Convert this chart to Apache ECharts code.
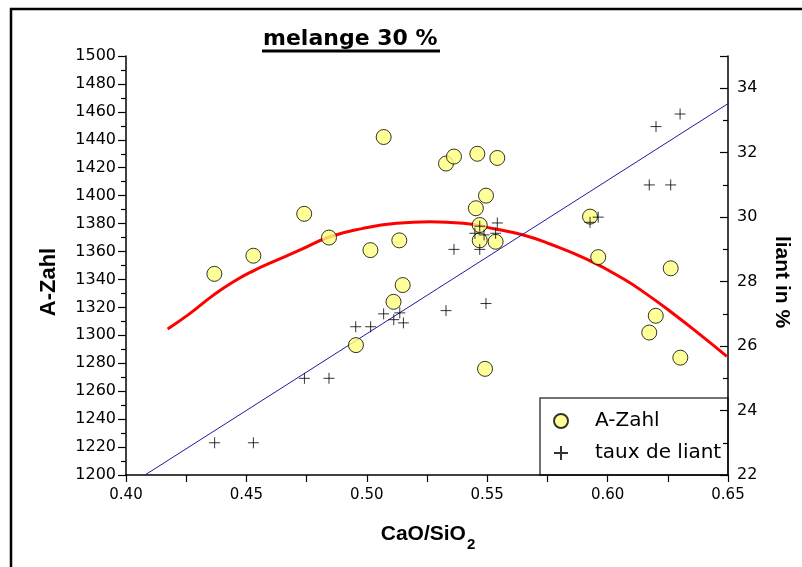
<!DOCTYPE html>
<html>
<head>
<meta charset="utf-8">
<script src="https://cdn.jsdelivr.net/npm/echarts@6/dist/echarts.min.js"></script>
<style>html,body{margin:0;padding:0;background:#fff}#c{width:802px;height:567px}</style>
</head>
<body>
<div id="c"></div>
<script>
// A-Zahl (left axis)
const azX = [0.4367,0.4529,0.4740,0.4843,0.4955,0.5015,0.5070,0.5111,0.5135,0.5149,0.5329,0.5362,0.5459,0.5453,0.5495,0.5469,0.5469,0.5491,0.5535,0.5542,0.5927,0.5961,0.6173,0.6200,0.6262,0.6302];
const azY = [1344,1357,1387,1370,1293,1361,1442,1324,1368,1336,1423,1428,1430,1391,1400,1379,1368,1276,1367,1427,1385,1356,1302,1314,1348,1284];
// taux de liant (right axis)
const tlX = [0.4368,0.4529,0.4741,0.4843,0.4954,0.5016,0.5070,0.5112,0.5137,0.5152,0.5329,0.5362,0.5449,0.5469,0.5469,0.5487,0.5495,0.5535,0.5542,0.5927,0.5961,0.6173,0.6201,0.6262,0.6301];
const tlY = [23.0,23.0,25.0,25.0,26.6,26.6,27.0,26.82,27.03,26.72,27.1,29.0,29.5,29.72,29.0,29.45,27.32,29.5,29.82,29.84,30.0,31.0,32.81,31.0,33.2];
// fitted curve of A-Zahl
const fitX = [0.4173,0.4266,0.4363,0.4446,0.4529,0.4612,0.4723,0.4847,0.4985,0.5124,0.5262,0.5401,0.5539,0.5650,0.5761,0.5913,0.6065,0.6162,0.6273,0.6384,0.6495];
const fitY = [1304.5,1315.7,1328.8,1338.4,1346.2,1352.7,1361.1,1370.6,1376.6,1380.2,1381.3,1380.2,1375.9,1371.8,1365.4,1354.5,1340.5,1329.5,1315.5,1300.5,1285.0];
// linear fit of taux de liant
const linX = [0.4079,0.6590];
const linY = [22.0,33.95];
// ticks
const xMin = 0.40, xMax = 0.65, xStep = 0.05;
const yMin = 1200, yMax = 1500, yStep = 20;
const y2Min = 22, y2Max = 35, y2Step = 2;

const zip = (a,b) => a.map((v,i)=>[v,b[i]]);
const lab = {fontFamily:'DejaVu Sans', fontSize:15, color:'#000'};
const chart = echarts.init(document.getElementById('c'));
chart.setOption({
  animation:false,
  backgroundColor:'#fff',
  title:{text:'melange 30 %', left:263, top:28, padding:0,
    textStyle:{fontFamily:'DejaVu Sans', fontWeight:'bold', fontSize:22, color:'#000'}},
  grid:{left:126, right:74, top:56, bottom:92},
  xAxis:{type:'value', min:xMin, max:xMax, interval:xStep,
    axisLine:{lineStyle:{color:'#000', width:1.5}},
    axisTick:{length:7, lineStyle:{color:'#000', width:1.2}},
    minorTick:{show:true, splitNumber:2, length:7, lineStyle:{color:'#000', width:1.2}},
    splitLine:{show:false},
    axisLabel:{...lab, margin:13, formatter:v=>v.toFixed(2)}},
  yAxis:[
    {type:'value', min:yMin, max:yMax, interval:yStep, position:'left',
     axisLine:{show:true, lineStyle:{color:'#000', width:1.5}},
     axisTick:{show:true, length:8, lineStyle:{color:'#000', width:1.2}},
     minorTick:{show:true, splitNumber:2, length:5, lineStyle:{color:'#000', width:1.2}},
     splitLine:{show:false},
     axisLabel:{...lab, fontSize:16, margin:10, formatter:v=>String(Math.round(v))}},
    {type:'value', min:y2Min, max:y2Max, interval:y2Step, position:'right',
     axisLine:{show:true, lineStyle:{color:'#000', width:1.5}},
     axisTick:{show:true, inside:true, length:8, lineStyle:{color:'#000', width:1.2}},
     minorTick:{show:true, splitNumber:2, length:5, lineStyle:{color:'#000', width:1.2}},
     splitLine:{show:false},
     axisLabel:{...lab, fontSize:16, margin:9, showMaxLabel:false, formatter:v=>String(Math.round(v))}}
  ],
  legend:{orient:'vertical', left:548, top:406, itemGap:12, itemWidth:14, itemHeight:14,
    textStyle:{fontFamily:'DejaVu Sans', fontSize:20, color:'#000', padding:[0,0,0,22]},
    data:['A-Zahl','taux de liant']},
  series:[
    {name:'fit', type:'line', yAxisIndex:0, data:zip(fitX,fitY), smooth:true, showSymbol:false,
     lineStyle:{color:'#ff0000', width:3}, z:3, silent:true},
    {name:'linfit', type:'line', yAxisIndex:1, data:zip(linX,linY), showSymbol:false, clip:false,
     lineStyle:{color:'#1c1c9c', width:1}, z:3, silent:true},
    {name:'A-Zahl', type:'scatter', yAxisIndex:0, data:zip(azX,azY), symbol:'circle', symbolSize:15,
     itemStyle:{color:'#ffff80', borderColor:'#000', borderWidth:1}, z:4},
    {name:'taux de liant', type:'scatter', yAxisIndex:1, data:zip(tlX,tlY),
     symbol:'path://M0 5H10M5 0V10', symbolSize:11,
     itemStyle:{color:'rgba(0,0,0,0)', borderColor:'#000', borderWidth:1}, z:5}
  ],
  graphic:[
    {type:'rect', shape:{x:11, y:9, width:820, height:600}, style:{fill:'none', stroke:'#000', lineWidth:2.5}, silent:true},
    {type:'line', shape:{x1:262, y1:51, x2:440, y2:51}, style:{stroke:'#000', lineWidth:3}, silent:true},
    {type:'rect', shape:{x:540, y:398, width:188, height:77}, style:{fill:'none', stroke:'#444', lineWidth:1.5}, silent:true},
    {type:'text', x:48.5, y:282, rotation:Math.PI/2,
     style:{text:'A-Zahl', fontFamily:'Liberation Sans', fontWeight:'bold', fontSize:22, fill:'#000',
            align:'center', verticalAlign:'middle', textAlign:'center', textVerticalAlign:'middle'}},
    {type:'text', x:781.5, y:282, rotation:-Math.PI/2,
     style:{text:'liant in %', fontFamily:'Liberation Sans', fontWeight:'bold', fontSize:21, fill:'#000',
            align:'center', verticalAlign:'middle', textAlign:'center', textVerticalAlign:'middle'}},
    {type:'text', x:428, y:524,
     style:{text:'{a|CaO/SiO}{b|2}', align:'center', verticalAlign:'top', textAlign:'center', textVerticalAlign:'top',
       rich:{a:{fontFamily:'Liberation Sans', fontWeight:'bold', fontSize:21, fill:'#000', verticalAlign:'top'},
             b:{fontFamily:'Liberation Sans', fontWeight:'bold', fontSize:15, fill:'#000', verticalAlign:'top', padding:[13,0,0,1]}}}}
  ]
});
</script>
</body>
</html>
